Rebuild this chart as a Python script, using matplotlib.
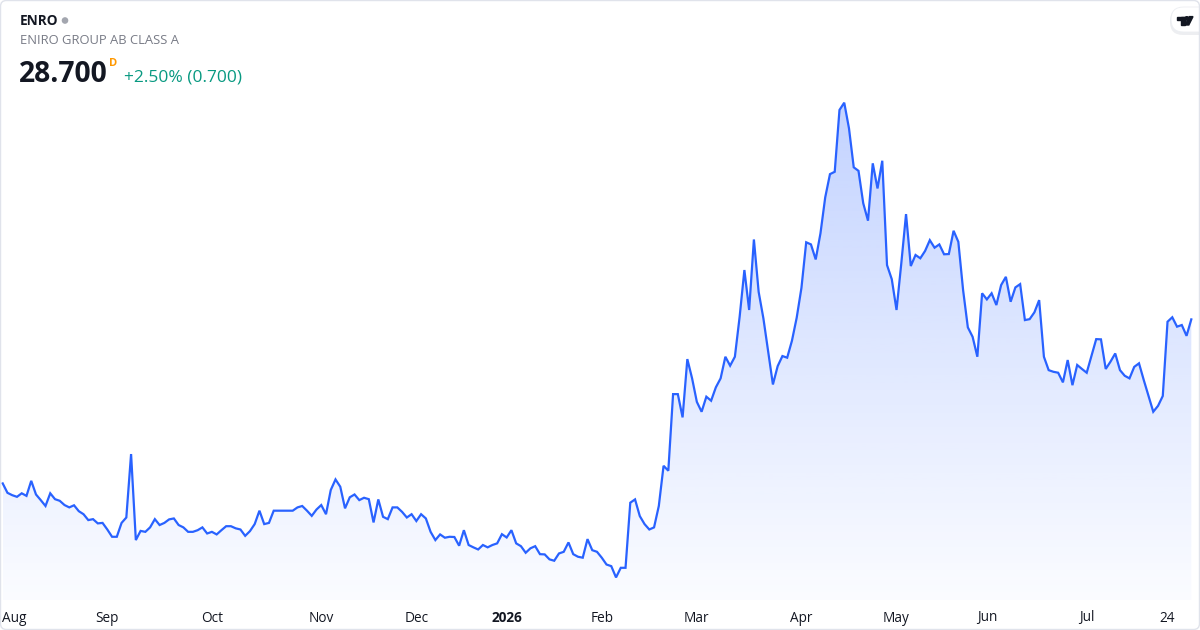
import numpy as np
import pandas as pd
import matplotlib
matplotlib.use('Agg')
import matplotlib.pyplot as plt
from matplotlib.patches import FancyBboxPatch, Rectangle, Circle, Polygon
from matplotlib.transforms import Affine2D, blended_transform_factory

plt.rcParams['font.family'] = ['Open Sans', 'DejaVu Sans']

# header
ticker = 'ENRO'
company = 'ENIRO GROUP AB CLASS A'
last_price = '28.700'
interval = 'D'
change_txt = '+2.50% (0.700)'

# daily closes
close_2025 = [21.72, 21.32, 21.22, 21.15, 21.30, 21.19, 21.83, 21.25, 21.01, 20.76,
              21.30, 21.05, 20.98, 20.80, 20.70, 20.79, 20.54, 20.41, 20.16, 20.20,
              20.02, 20.04, 19.76, 19.45, 19.45, 20.04, 20.27, 22.97, 19.31, 19.70,
              19.66, 19.85, 20.20, 19.95, 20.04, 20.19, 20.23, 19.95, 19.85, 19.66,
              19.66, 19.73, 19.85, 19.59, 19.66, 19.55, 19.73, 19.90, 19.90, 19.81,
              19.76, 19.49, 19.69, 19.99, 20.56, 19.99, 20.04, 20.56, 20.56, 20.56,
              20.56, 20.56, 20.70, 20.76, 20.56, 20.34, 20.61,
              20.80, 20.41, 21.44, 21.89, 21.58, 20.66, 21.13, 21.25, 21.01, 21.11,
              21.05, 20.06, 21.04, 20.30, 20.20, 20.70, 20.70, 20.51, 20.27, 20.41,
              20.12, 20.41, 20.23, 19.66, 19.31, 19.55, 19.41, 19.45, 19.44, 19.07,
              19.73, 19.10, 19.00, 18.91, 19.10, 19.00, 19.10, 19.17, 19.56]
close_2026 = [19.42, 19.73, 19.17, 19.05, 18.77, 18.96, 19.05, 18.71, 18.70, 18.49,
              18.43, 18.74, 18.81, 19.21, 18.71, 18.60, 18.56, 19.35, 18.88, 18.81,
              18.56, 18.27, 18.20, 17.72, 18.13, 18.13,
              20.90, 21.04, 20.33, 19.99, 19.76, 19.85, 20.76, 22.47, 22.26, 25.52,
              25.52, 24.53, 27.01, 26.19, 25.19, 24.77, 25.41, 25.24, 25.81, 26.19,
              27.11, 26.73, 27.11, 28.81, 30.80, 29.10, 32.10, 29.87, 28.74, 27.35,
              25.93, 26.71, 27.14, 27.07, 27.79, 28.77, 30.04, 31.98, 31.89, 31.25,
              32.36,
              33.89, 34.88, 34.98, 37.61, 37.92, 36.83, 35.17, 35.02, 33.64, 32.90,
              35.34, 34.27, 35.45, 31.01, 30.41, 29.10, 31.08, 33.18, 30.97, 31.44,
              31.30, 31.61, 32.07, 31.75, 31.89, 31.47, 31.48, 32.47, 32.00, 29.95,
              28.36, 27.96, 27.11, 29.81, 29.55,
              29.81, 29.31, 30.16, 30.51, 29.45, 30.06, 30.20, 28.67, 28.71, 29.00,
              29.52, 27.11, 26.54, 26.47, 26.43, 26.02, 26.97, 25.90, 26.76, 26.59,
              26.43, 27.15, 27.86, 27.85, 26.59, 26.90, 27.25, 26.54, 26.30, 26.19,
              26.68, 26.83, 26.12, 25.44, 24.77, 25.02, 25.44, 28.60, 28.79, 28.39,
              28.46, 28.00, 28.70]

# Stockholm exchange closing days in the range
holidays = ['2025-12-24', '2025-12-25', '2025-12-26', '2025-12-31', '2026-01-01',
            '2026-01-06', '2026-04-03', '2026-04-06', '2026-05-01', '2026-05-14',
            '2026-06-19']
week_tick = '2026-07-24'

dates = pd.bdate_range('2025-07-31', '2026-07-31', freq='C', holidays=holidays)
prices = np.array(close_2025 + close_2026)
xs = np.arange(len(prices))

# tick labels: first trading day of each month, plus the week mark
ds = pd.Series(dates)
per = ds.dt.to_period('M')
new_month = np.flatnonzero((per != per.shift()).values)
ticks = [i for i in new_month if i > 0]
labels = [('2026' if dates[i].month == 1 else dates[i].strftime('%b')) for i in ticks]
ticks.append(int(np.flatnonzero(dates == pd.Timestamp(week_tick))[0]))
labels.append(str(pd.Timestamp(week_tick).day))

W, H = 1200, 630
fig = plt.figure(figsize=(12, 6.3), dpi=100)
fig.patch.set_facecolor('white')
px = Affine2D().scale(1 / W, -1 / H).translate(0, 1) + fig.transFigure

ax = fig.add_axes([0, 30 / H, 1, 510 / H])
ax.axis('off')

blue = '#2962ff'
poly = ax.fill_between(xs, prices, 16.76, color='none', lw=0)
grad = np.zeros((256, 1, 4))
grad[:, 0, 0] = 41 / 255
grad[:, 0, 1] = 98 / 255
grad[:, 0, 2] = 1.0
grad[:, 0, 3] = np.linspace(0.28, 0.02, 256)
im = ax.imshow(grad, aspect='auto', origin='upper',
               extent=[xs[0], xs[-1], 16.76, prices.max()], zorder=1)
im.set_clip_path(poly.get_paths()[0], transform=ax.transData)
ax.plot(xs, prices, color=blue, lw=1.6, zorder=3, solid_joinstyle='miter')
ax.set_ylim(16.76, 38.46)
ax.set_xlim(-0.57, len(prices) - 1 + 1.83)

# x labels
tr = blended_transform_factory(ax.transData, fig.transFigure)
for i, lab in zip(ticks, labels):
    bold = lab.isdigit() and len(lab) == 4
    if i == ticks[0]:
        ax.text(-0.2, 1 - 618 / H, lab, transform=tr, ha='left', va='center',
                fontsize=9.8, color='#131722')
    else:
        ax.text(i, 1 - 618 / H, lab, transform=tr, ha='center', va='center',
                fontsize=9.8, color='#131722', fontweight='bold' if bold else 'normal')

# header
fig.text(19.5, 21, ticker, transform=px, fontsize=9.8, fontweight='bold',
         color='#131722', va='center', ha='left')
fig.patches.append(Circle((65, 20.5), 2.6, transform=px, color='#a3a6af'))
fig.text(19.5, 40.5, company, transform=px, fontsize=9.4, color='#787b86',
         va='center', ha='left')
fig.text(18.5, 81.5, last_price, transform=px, fontsize=20.3, fontweight='bold',
         color='#131722', va='baseline', ha='left')
fig.text(109.5, 65.5, interval, transform=px, fontsize=8, fontweight='bold',
         color='#ff9800', va='baseline', ha='left')
fig.text(124, 81.5, change_txt, transform=px, fontsize=12.5, color='#089981',
         va='baseline', ha='left')

# logo pill
fig.patches.append(FancyBboxPatch((1170, 8), 44, 27, boxstyle='round,pad=0,rounding_size=13',
                                  transform=px, fc='#dfe1e6', ec='none', alpha=0.55))
fig.patches.append(FancyBboxPatch((1171, 7), 42, 25, boxstyle='round,pad=0,rounding_size=12.5',
                                  transform=px, fc='white', ec='#eceef2', lw=0.6))
fig.patches.append(Rectangle((1177.3, 16.6), 7.2, 3, transform=px, color='#131722'))
fig.patches.append(Rectangle((1181.2, 16.6), 3.3, 8.4, transform=px, color='#131722'))
fig.patches.append(Circle((1186.8, 18.4), 1.7, transform=px, color='#131722'))
fig.patches.append(Polygon([(1189.2, 16.6), (1193.0, 16.6), (1188.8, 25.0), (1185.1, 25.0)],
                           closed=True, transform=px, color='#131722'))

# outer frame
fig.patches.append(FancyBboxPatch((0.5, 0.5), W - 1, H - 1, boxstyle='round,pad=0,rounding_size=6',
                                  transform=px, fc='none', ec='#e0e3eb', lw=1))

fig.savefig('out.png', dpi=100, facecolor='white')
